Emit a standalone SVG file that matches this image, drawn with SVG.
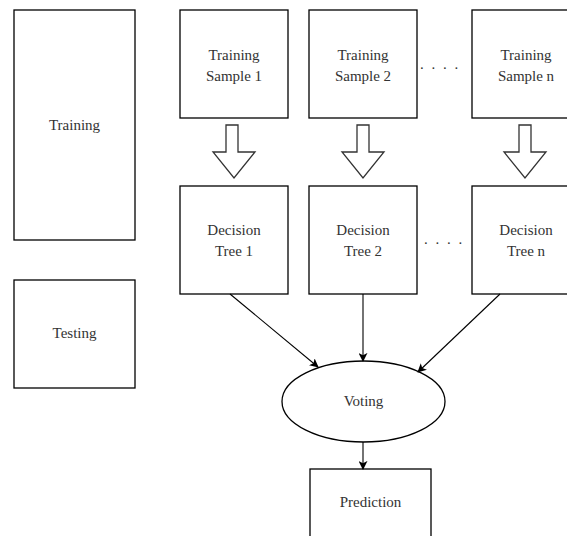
<svg xmlns="http://www.w3.org/2000/svg" width="567" height="536" viewBox="0 0 567 536">
<style>
.box{fill:#fff;stroke:#000;stroke-width:1.3}
.blk{fill:#fff;stroke:#333;stroke-width:1.3;stroke-linejoin:miter}
.t{font-family:"Liberation Serif","Times New Roman",serif;font-size:15px;fill:#333;text-anchor:middle}
.edge{fill:none;stroke:#000;stroke-width:1.1}
</style>
<defs>
<marker id="ah" viewBox="0 0 10 10" refX="9" refY="5" markerWidth="9" markerHeight="9" markerUnits="userSpaceOnUse" orient="auto">
<path d="M0,0 L10,5 L0,10 L2.5,5 Z" fill="#000"/>
</marker>
</defs>
<rect width="567" height="536" fill="#fff"/>
<g id="training"><rect class="box" x="14" y="10" width="121" height="230"/><text class="t" x="74.5" y="130">Training</text></g>
<g id="testing"><rect class="box" x="14" y="280" width="121" height="108"/><text class="t" x="74.5" y="338">Testing</text></g>
<g id="sample1"><rect class="box" x="180" y="10" width="108" height="108"/><text class="t" x="234" y="60">Training</text><text class="t" x="234" y="81">Sample 1</text></g>
<g id="sample2"><rect class="box" x="309" y="10" width="108" height="108"/><text class="t" x="363" y="60">Training</text><text class="t" x="363" y="81">Sample 2</text></g>
<g id="samplen"><rect class="box" x="472" y="10" width="108" height="108"/><text class="t" x="526" y="60">Training</text><text class="t" x="526" y="81">Sample n</text></g>
<g id="dots1"><text class="t" x="440" y="69" style="letter-spacing:2px">. . . .</text></g>
<g id="tree1"><rect class="box" x="180" y="186" width="108" height="108"/><text class="t" x="234" y="235">Decision</text><text class="t" x="234" y="256">Tree 1</text></g>
<g id="tree2"><rect class="box" x="309" y="186" width="108" height="108"/><text class="t" x="363" y="235">Decision</text><text class="t" x="363" y="256">Tree 2</text></g>
<g id="treen"><rect class="box" x="472" y="186" width="108" height="108"/><text class="t" x="526" y="235">Decision</text><text class="t" x="526" y="256">Tree n</text></g>
<g id="dots2"><text class="t" x="444" y="244" style="letter-spacing:2px">. . . .</text></g>
<g id="voting"><ellipse class="box" cx="363.5" cy="401.5" rx="81.5" ry="40.5"/><text class="t" x="363.5" y="406">Voting</text></g>
<g id="prediction"><rect class="box" x="310" y="469" width="121" height="80"/><text class="t" x="370.5" y="507">Prediction</text></g>
<g id="blockarrows">
<path class="blk" d="M226,125 H238 V152 H255 L234,178 L213,152 H226 Z"/>
<path class="blk" d="M357,125 H369 V152 H384 L363,178 L342,152 H357 Z"/>
<path class="blk" d="M519,125 H531 V152 H546 L525,178 L504,152 H519 Z"/>
</g>
<g id="connectors">
<line class="edge" x1="230" y1="294" x2="318" y2="367" marker-end="url(#ah)"/>
<line class="edge" x1="363" y1="294" x2="363" y2="361" marker-end="url(#ah)"/>
<line class="edge" x1="500" y1="294" x2="418" y2="372" marker-end="url(#ah)"/>
<line class="edge" x1="363" y1="442" x2="363" y2="469" marker-end="url(#ah)"/>
</g>
</svg>
